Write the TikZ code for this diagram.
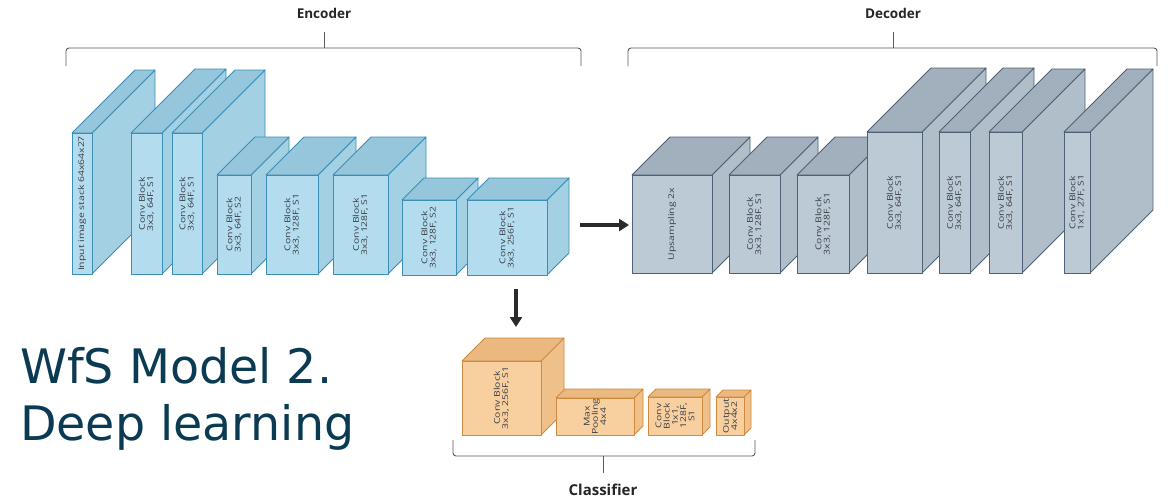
\documentclass[tikz,border=0pt]{standalone}
\usepackage{fontspec}
\setmainfont{Open Sans}
\newfontfamily\blkfont[FakeStretch=1.3]{Open Sans}
\newfontfamily\titlefont{DejaVu Sans}
\usetikzlibrary{arrows.meta}
\definecolor{encF}{HTML}{B3DCEF}
\definecolor{encT}{HTML}{96C6DB}
\definecolor{encS}{HTML}{A4D0E4}
\definecolor{encE}{HTML}{3A8FB5}
\definecolor{decF}{HTML}{BCCAD6}
\definecolor{decT}{HTML}{A2B0BD}
\definecolor{decS}{HTML}{B0BEC9}
\definecolor{decE}{HTML}{4F6275}
\definecolor{clsF}{HTML}{F8CF9F}
\definecolor{clsT}{HTML}{EBB880}
\definecolor{clsS}{HTML}{F0C08A}
\definecolor{clsE}{HTML}{D08A40}
\definecolor{blktxt}{HTML}{3A3F45}
\definecolor{titlecol}{HTML}{0B3A53}
\definecolor{bracecol}{HTML}{5A5A5A}
\definecolor{arrowcol}{HTML}{2B2B2B}
\newcommand{\cube}[8]{%
  \path[#7 side] (#4,#3) -- ({#4+#6},{#3-#6}) -- ({#4+#6},{#5-#6}) -- (#4,#5) -- cycle;
  \path[#7 top] (#2,#3) -- ({#2+#6},{#3-#6}) -- ({#4+#6},{#3-#6}) -- (#4,#3) -- cycle;
  \path[#7 front] (#2,#3) rectangle (#4,#5);
  \node[blk label] (#1) at ({(#2+#4)/2},{(#3+#5)/2}) {#8};
}
\tikzset{
  enc side/.style={fill=encS, draw=encE, line width=0.8pt, line join=round},
  enc top/.style={fill=encT, draw=encE, line width=0.8pt, line join=round},
  enc front/.style={fill=encF, draw=encE, line width=0.8pt, line join=round},
  dec side/.style={fill=decS, draw=decE, line width=0.8pt, line join=round},
  dec top/.style={fill=decT, draw=decE, line width=0.8pt, line join=round},
  dec front/.style={fill=decF, draw=decE, line width=0.8pt, line join=round},
  cls side/.style={fill=clsS, draw=clsE, line width=0.8pt, line join=round},
  cls top/.style={fill=clsT, draw=clsE, line width=0.8pt, line join=round},
  cls front/.style={fill=clsF, draw=clsE, line width=0.8pt, line join=round},
  blk label/.style={rotate=90, align=center, text=blktxt, inner sep=0pt,
    font=\blkfont\fontsize{8}{8.3}\selectfont},
  grp label/.style={font=\bfseries\fontsize{13.5}{15}\selectfont, text=black!85},
  brace line/.style={draw=bracecol, line width=0.9pt, rounded corners=3pt},
  big arrow/.style={draw=arrowcol, line width=3.6pt,
    -{Triangle[length=10pt,width=12pt]}},
  title text/.style={font=\titlefont\fontsize{47.5}{57}\selectfont, text=titlecol,
    anchor=base west, inner sep=0pt}
}
\begin{document}
\begin{tikzpicture}[x=1pt,y=-1pt]
\useasboundingbox[fill=white] (0,0) rectangle (1168,501);
% ---------------- Encoder ----------------
\cube{enc0}{72}{133}{92}{274}{63}{enc}{Input image stack 64x64x27}
\cube{enc1}{131}{133}{162}{274}{64}{enc}{Conv Block\\3x3, 64F, S1}
\cube{enc2}{172}{133}{202}{274}{63}{enc}{Conv Block\\3x3, 64F, S1}
\cube{enc3}{217}{175}{251}{274}{38}{enc}{Conv Block\\3x3, 64F, S2}
\cube{enc4}{266}{175}{318}{274}{38}{enc}{Conv Block\\3x3, 128F, S1}
\cube{enc5}{333}{175}{388}{274}{38}{enc}{Conv Block\\3x3, 128F, S1}
\cube{enc6}{402}{200}{456}{275}{22}{enc}{Conv Block\\3x3, 128F, S2}
\cube{enc7}{467}{200}{547}{275}{22}{enc}{Conv Block\\3x3, 256F, S1}
% ---------------- Decoder ----------------
\cube{dec0}{632}{175}{712}{273}{38}{dec}{Upsampling 2x}
\cube{dec1}{729}{175}{780}{273}{38}{dec}{Conv Block\\3x3, 128F, S1}
\cube{dec2}{797}{175}{849}{273}{38}{dec}{Conv Block\\3x3, 128F, S1}
\cube{dec3}{867}{132}{922}{273}{64}{dec}{Conv Block\\3x3, 64F, S1}
\cube{dec4}{939}{132}{970}{273}{64}{dec}{Conv Block\\3x3, 64F, S1}
\cube{dec5}{989}{132}{1022}{273}{63}{dec}{Conv Block\\3x3, 64F, S1}
\cube{dec6}{1064}{132}{1090}{273}{63}{dec}{Conv Block\\1x1, 27F, S1}
% ---------------- Classifier ----------------
\cube{cls0}{462}{361}{541}{435}{23}{cls}{Conv Block\\3x3, 256F, S1}
\cube{cls1}{556}{398}{634}{435}{9}{cls}{Max\\Pooling\\4x4}
\cube{cls2}{648}{397}{702}{435}{8}{cls}{Conv\\Block\\1x1,\\128F,\\S1}
\cube{cls3}{716}{397}{744}{435}{7}{cls}{Output\\4x4x2}
% ---------------- Arrows ----------------
\coordinate (encout) at (580,225);
\coordinate (decin) at (629,225);
\draw[big arrow] (encout) -- (decin);
\coordinate (clsfrom) at (516,289);
\coordinate (clsin) at (516,327);
\draw[big arrow] (clsfrom) -- (clsin);
% ---------------- Braces ----------------
\draw[brace line] (66,66) -- (66,48) -- (581,48) -- (581,66);
\draw[draw=bracecol, line width=0.9pt] (324,48) -- (324,32);
\node[grp label] (enclab) at (324,13) {Encoder};
\draw[brace line] (628,66) -- (628,48) -- (1157,48) -- (1157,66);
\draw[draw=bracecol, line width=0.9pt] (893,48) -- (893,32);
\node[grp label] (declab) at (893,13) {Decoder};
\draw[brace line] (453,440) -- (453,456) -- (755,456) -- (755,440);
\draw[draw=bracecol, line width=0.9pt] (603,456) -- (603,473);
\node[grp label, font=\bfseries\fontsize{15}{17}\selectfont] (clslab) at (603,490) {Classifier};
% ---------------- Title ----------------
\node[title text] (title1) at (20,383) {WfS Model 2.};
\node[title text] (title2) at (20,440) {Deep learning};
\end{tikzpicture}
\end{document}
